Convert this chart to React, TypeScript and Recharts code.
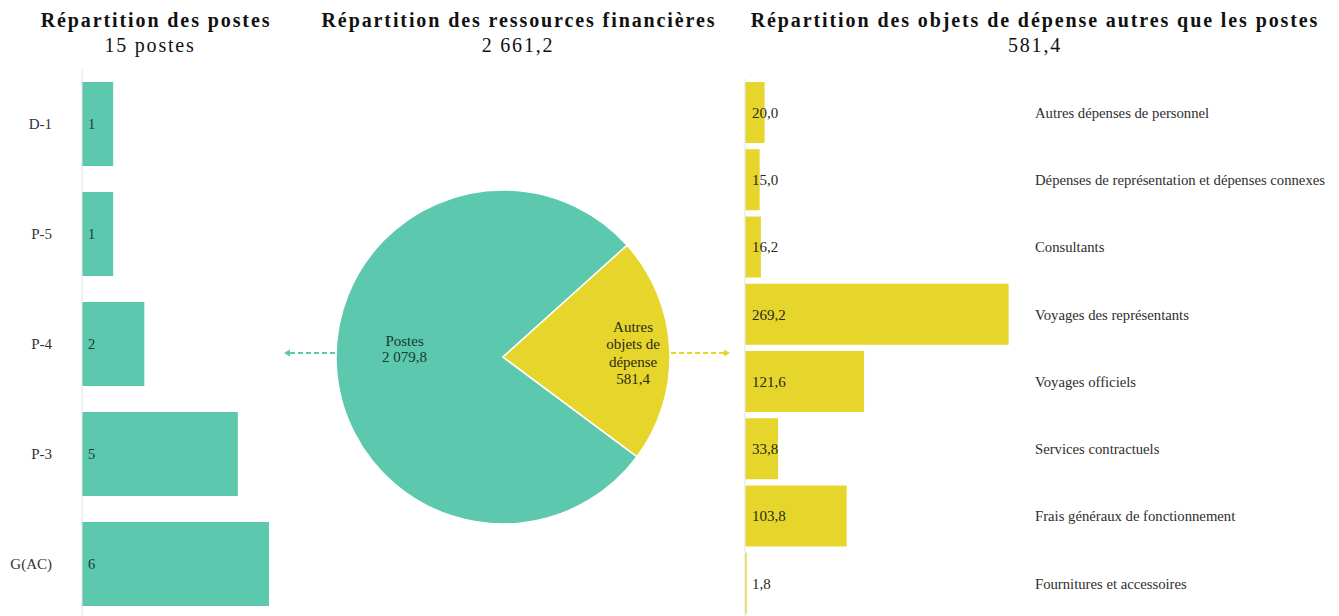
import React from "react";
import { Bar, BarChart, Cell, LabelList, Pie, PieChart, XAxis, YAxis } from "recharts";

const gradeNames = ["D-1", "P-5", "P-4", "P-3", "G(AC)"];
const gradeCounts = [1, 1, 2, 5, 6];

const resourceNames = ["Postes", "Autres objets de dépense"];
const resourceValues = [2079.8, 581.4];

const expenseNames = [
  "Autres dépenses de personnel",
  "Dépenses de représentation et dépenses connexes",
  "Consultants",
  "Voyages des représentants",
  "Voyages officiels",
  "Services contractuels",
  "Frais généraux de fonctionnement",
  "Fournitures et accessoires",
];
const expenseValues = [20.0, 15.0, 16.2, 269.2, 121.6, 33.8, 103.8, 1.8];

const titles = [
  "Répartition des postes",
  "Répartition des ressources financières",
  "Répartition des objets de dépense autres que les postes",
];
const subtitles = ["15 postes", "2 661,2", "581,4"];

const green = "#5cc8ad";
const yellow = "#e6d62b";
const serif = "'Liberation Serif', 'Times New Roman', serif";
const RADIAN = Math.PI / 180;

const gradeData = gradeNames.map((g, i) => ({ grade: g, count: gradeCounts[i] }));
const resourceData = resourceNames.map((n, i) => ({ name: n, value: resourceValues[i] }));
const expenseData = expenseNames.map((n, i) => ({ name: n, value: expenseValues[i] }));

function frNum(v: number, digits = 1) {
  const [int, dec] = v.toFixed(digits).split(".");
  const grouped = int.replace(/\B(?=(\d{3})+(?!\d))/g, " ");
  return dec ? grouped + "," + dec : grouped;
}

function wrap(text: string, max: number) {
  const lines: string[] = [];
  let cur = "";
  text.split(" ").forEach((w) => {
    if (cur && (cur + " " + w).length > max) {
      lines.push(cur);
      cur = w;
    } else cur = cur ? cur + " " + w : w;
  });
  if (cur) lines.push(cur);
  return lines;
}

function Arrow({ x1, x2, y, color }: { x1: number; x2: number; y: number; color: string }) {
  const dir = x2 > x1 ? 1 : -1;
  return (
    <g>
      <line x1={x1} y1={y} x2={x2 - dir * 5} y2={y} stroke={color} strokeWidth={2} strokeDasharray="5 3" />
      <polygon points={`${x2},${y} ${x2 - dir * 6},${y - 3.5} ${x2 - dir * 6},${y + 3.5}`} fill={color} />
    </g>
  );
}

function renderPieLabel(props: any) {
  const { cx, cy, midAngle, outerRadius, index, name, value } = props;
  const r = outerRadius * (index === 0 ? 0.59 : 0.78);
  const x = cx + r * Math.cos(-midAngle * RADIAN);
  const y = cy + r * Math.sin(-midAngle * RADIAN) + (index === 0 ? -13 : 2);
  const lines = [...wrap(name, 9), frNum(value)];
  const lh = index === 0 ? 16 : 17.3;
  const top = y - ((lines.length - 1) * lh) / 2;
  return (
    <g>
      {index === 0 ? (
        <Arrow x1={cx - outerRadius - 1} x2={cx - outerRadius - 52} y={cy - 4} color={green} />
      ) : (
        <Arrow x1={cx + outerRadius + 1} x2={cx + outerRadius + 60} y={cy - 4} color={yellow} />
      )}
      <text x={x} y={top} textAnchor="middle" dominantBaseline="central" fontSize={15} fontFamily={serif} fill={index === 0 ? "#173a31" : "#2a2a18"}>
        {lines.map((l, i) => (
          <tspan key={i} x={x} dy={i === 0 ? 0 : lh}>{l}</tspan>
        ))}
      </text>
    </g>
  );
}

function renderExpenseTick(props: any) {
  const { x, y, payload } = props;
  return (
    <text x={x} y={y} dy="0.35em" textAnchor="start" fontSize={14.7} fontFamily={serif} fill="#2e2e2e">
      {payload.value}
    </text>
  );
}

const titleCenters = [156, 519, 1035];
const subtitleCenters = [150, 518, 1035];

export default function App() {
  return (
    <div style={{ position: "absolute", left: 0, top: 0, width: 1339, height: 616, overflow: "hidden", background: "#fff", fontFamily: serif }}>
      <svg width={1339} height={616} style={{ position: "absolute", left: 0, top: 0 }}>
        {titles.map((t, i) => (
          <text key={t} x={titleCenters[i]} y={27} textAnchor="middle" fontSize={20} fontWeight="bold" letterSpacing={1.9} fontFamily={serif} fill="#111">
            {t}
          </text>
        ))}
        {subtitles.map((t, i) => (
          <text key={t} x={subtitleCenters[i]} y={52} textAnchor="middle" fontSize={20} letterSpacing={1.8} fontFamily={serif} fill="#111">
            {t}
          </text>
        ))}
      </svg>

      <div style={{ position: "absolute", left: 0, top: 0 }}>
        <BarChart layout="vertical" width={300} height={619} data={gradeData} margin={{ top: 69, right: 31, bottom: 0, left: 0 }}>
          <XAxis type="number" domain={[0, 6]} hide />
          <YAxis
            type="category"
            dataKey="grade"
            width={82}
            axisLine={{ stroke: "#e4e4e4" }}
            tickLine={false}
            tickMargin={24}
            tick={{ fontSize: 15, fill: "#333", fontFamily: serif }}
          />
          <Bar dataKey="count" fill={green} barSize={84} isAnimationActive={false}>
            <LabelList dataKey="count" position="insideLeft" offset={6} style={{ fontSize: 14.5, fill: "#1d3a33", fontFamily: serif }} />
          </Bar>
        </BarChart>
      </div>

      <div style={{ position: "absolute", left: 270, top: 0 }}>
        <PieChart width={470} height={616} margin={{ top: 0, right: 0, bottom: 0, left: 0 }}>
          <Pie
            data={resourceData}
            dataKey="value"
            nameKey="name"
            cx={233}
            cy={357}
            outerRadius={167}
            startAngle={42}
            endAngle={402}
            stroke="#fff"
            strokeWidth={1.5}
            label={renderPieLabel}
            labelLine={false}
            isAnimationActive={false}
          >
            {resourceData.map((d, i) => (
              <Cell key={d.name} fill={i === 0 ? green : yellow} />
            ))}
          </Pie>
        </PieChart>
      </div>

      <div style={{ position: "absolute", left: 700, top: 0 }}>
        <BarChart layout="vertical" width={639} height={617} data={expenseData} margin={{ top: 79, right: 0, bottom: 0, left: 0 }}>
          <XAxis type="number" domain={[0, 288]} allowDataOverflow hide />
          <YAxis yAxisId="left" type="category" dataKey="name" width={45} tick={false} tickLine={false} axisLine={{ stroke: "#e4e4e4" }} />
          <YAxis
            yAxisId="right"
            orientation="right"
            type="category"
            dataKey="name"
            width={312}
            axisLine={false}
            tickLine={false}
            tick={renderExpenseTick}
          />
          <Bar yAxisId="left" dataKey="value" fill={yellow} barSize={61} isAnimationActive={false}>
            <LabelList
              dataKey="value"
              position="insideLeft"
              offset={7}
              formatter={(v: any) => frNum(Number(v))}
              style={{ fontSize: 15, fill: "#2a2a18", fontFamily: serif }}
            />
          </Bar>
        </BarChart>
      </div>
    </div>
  );
}
